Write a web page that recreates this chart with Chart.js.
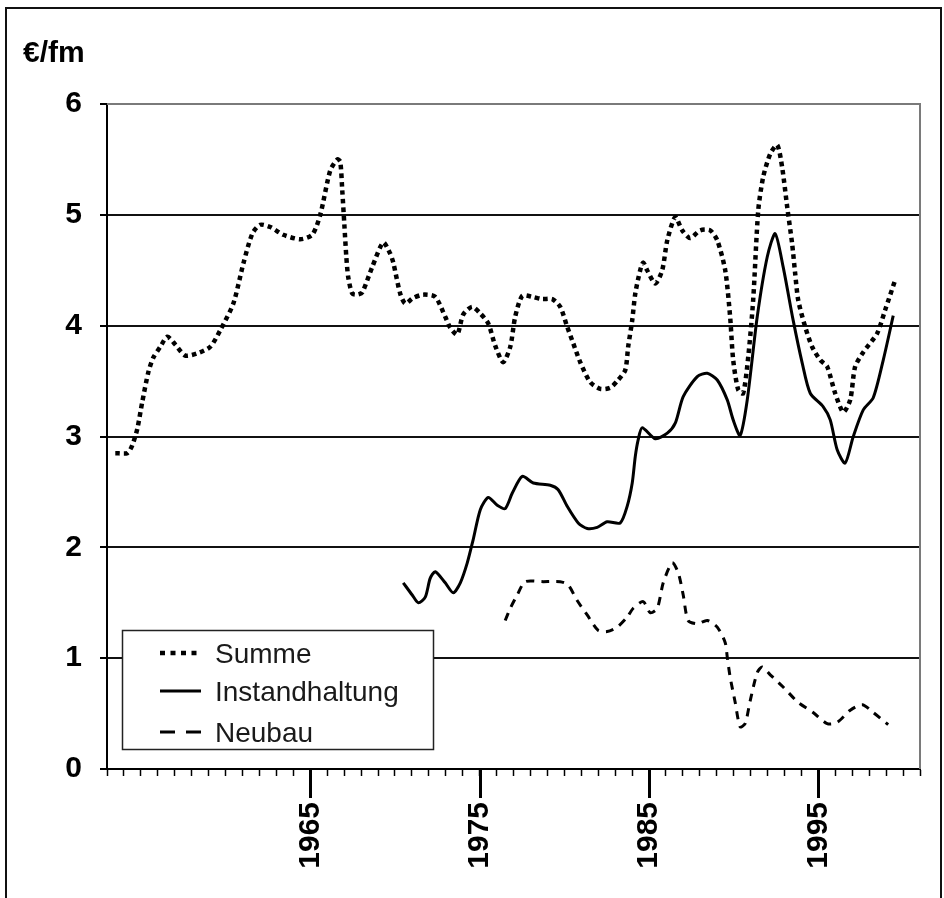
<!DOCTYPE html>
<html>
<head>
<meta charset="utf-8">
<script src="https://cdn.jsdelivr.net/npm/chart.js@4/dist/chart.umd.min.js"></script>
<style>
    body { margin: 0; background: #fff; }
    #wrap { position: relative; width: 944px; height: 898px; overflow: hidden; }
    #frame { position: absolute; left: 5px; top: 7px; right: 2px; bottom: -10px; border: 2px solid #111; }
    canvas { position: absolute; left: 0; top: 0; }
</style>
</head>
<body>
<div id="wrap">
    <div id="frame"></div>
    <canvas id="costChart" width="944" height="898"></canvas>
</div>
<script>
// Summe (dotted)
const sumYears = [1953.49, 1954.20, 1954.49, 1954.79, 1955.08, 1955.44, 1955.73, 1956.15, 1956.56, 1957.03,
    1957.62, 1958.33, 1959.10, 1959.69, 1960.46, 1961.05, 1961.58, 1962.05, 1962.64, 1963.41,
    1964.41, 1965.12, 1965.59, 1966.18, 1966.60, 1966.77, 1966.89, 1967.01, 1967.13, 1967.24,
    1967.48, 1967.78, 1968.07, 1968.66, 1969.31, 1969.72, 1969.90, 1970.31, 1970.61, 1971.08,
    1971.67, 1972.38, 1972.97, 1973.27, 1973.68, 1974.03, 1974.56, 1975.04, 1975.51, 1975.92,
    1976.39, 1976.81, 1977.10, 1977.52, 1978.11, 1978.70, 1979.29, 1979.76, 1980.17, 1980.53,
    1980.94, 1981.53, 1982.12, 1982.71, 1983.18, 1983.60, 1983.77, 1984.01, 1984.19, 1984.48,
    1984.66, 1984.89, 1985.37, 1985.78, 1986.08, 1986.55, 1986.96, 1987.43, 1988.02, 1988.61,
    1989.03, 1989.50, 1989.79, 1989.97, 1990.27, 1990.56, 1990.86, 1991.15, 1991.45, 1991.74,
    1992.16, 1992.57, 1992.86, 1993.16, 1993.45, 1993.63, 1993.81, 1994.22, 1994.63, 1995.11,
    1995.52, 1995.99, 1996.47, 1996.88, 1997.17, 1997.65, 1998.47, 1998.94, 1999.53];
const sumValues = [2.85, 2.85, 2.92, 3.07, 3.31, 3.58, 3.71, 3.81, 3.90, 3.83,
    3.73, 3.75, 3.81, 3.96, 4.20, 4.56, 4.83, 4.91, 4.89, 4.82,
    4.78, 4.82, 5.00, 5.40, 5.50, 5.48, 5.22, 4.92, 4.62, 4.44,
    4.29, 4.28, 4.30, 4.53, 4.75, 4.65, 4.57, 4.29, 4.20, 4.25,
    4.28, 4.26, 4.08, 3.98, 3.92, 4.10, 4.17, 4.11, 4.02, 3.82,
    3.67, 3.81, 4.08, 4.27, 4.26, 4.24, 4.24, 4.17, 3.99, 3.84,
    3.67, 3.49, 3.43, 3.44, 3.51, 3.60, 3.81, 4.05, 4.29, 4.50,
    4.57, 4.50, 4.38, 4.50, 4.77, 4.98, 4.86, 4.79, 4.86, 4.86,
    4.77, 4.50, 4.08, 3.69, 3.42, 3.39, 3.72, 4.23, 5.04, 5.34,
    5.55, 5.63, 5.43, 5.07, 4.74, 4.47, 4.23, 3.99, 3.81, 3.69,
    3.63, 3.39, 3.22, 3.33, 3.63, 3.76, 3.93, 4.14, 4.41];

// Instandhaltung (solid)
const repYears = [1970.49, 1971.02, 1971.38, 1971.79, 1972.08, 1972.38, 1972.97, 1973.44, 1973.86, 1974.27,
    1974.62, 1975.04, 1975.51, 1976.04, 1976.51, 1976.93, 1977.52, 1978.17, 1979.17, 1979.64,
    1980.17, 1980.82, 1981.35, 1981.94, 1982.53, 1983.30, 1983.71, 1984.01, 1984.19, 1984.36,
    1984.60, 1985.37, 1986.08, 1986.55, 1987.02, 1987.85, 1988.44, 1989.03, 1989.62, 1989.97,
    1990.38, 1990.80, 1991.39, 1991.98, 1992.45, 1992.92, 1993.51, 1994.05, 1994.52, 1995.28,
    1995.70, 1996.11, 1996.58, 1997.06, 1997.65, 1998.24, 1998.83, 1999.42];
const repValues = [1.68, 1.57, 1.50, 1.55, 1.72, 1.78, 1.68, 1.59, 1.68, 1.86,
    2.07, 2.34, 2.45, 2.38, 2.35, 2.49, 2.64, 2.58, 2.56, 2.52,
    2.37, 2.22, 2.17, 2.18, 2.23, 2.22, 2.37, 2.58, 2.82, 2.97,
    3.08, 2.98, 3.03, 3.12, 3.36, 3.54, 3.57, 3.51, 3.33, 3.15,
    3.01, 3.33, 4.08, 4.62, 4.83, 4.53, 4.05, 3.66, 3.39, 3.27,
    3.15, 2.88, 2.76, 3.00, 3.24, 3.35, 3.69, 4.09];

// Neubau (dashed)
const newYears = [1976.51, 1976.81, 1977.22, 1977.69, 1978.76, 1979.76, 1980.23, 1980.76, 1981.35, 1982.00,
    1982.53, 1983.12, 1983.71, 1984.07, 1984.66, 1985.07, 1985.49, 1985.84, 1986.37, 1986.73,
    1987.02, 1987.31, 1987.85, 1988.44, 1989.03, 1989.50, 1989.62, 1989.79, 1990.09, 1990.38,
    1990.68, 1990.98, 1991.39, 1991.68, 1992.16, 1992.92, 1993.81, 1994.69, 1995.52, 1996.11,
    1996.88, 1997.59, 1998.24, 1999.12];
const newValues = [1.34, 1.45, 1.57, 1.69, 1.69, 1.69, 1.66, 1.52, 1.39, 1.25,
    1.24, 1.28, 1.37, 1.45, 1.51, 1.41, 1.45, 1.68, 1.86, 1.77,
    1.57, 1.34, 1.31, 1.34, 1.28, 1.14, 1.01, 0.83, 0.60, 0.38,
    0.41, 0.62, 0.87, 0.92, 0.85, 0.74, 0.60, 0.51, 0.41, 0.42,
    0.53, 0.58, 0.51, 0.40];

// axis tick labels
const xLabelYears = [1965, 1975, 1985, 1995];
const yTicks = [0, 1, 2, 3, 4, 5, 6];
const unitLabel = '€/fm';

const FONT = '"Liberation Sans", Arial, sans-serif';

function toPoints(xs, ys) {
    return xs.map((x, i) => ({ x: x, y: ys[i] }));
}

// long tick marks at labelled years, outline of plot, unit label and legend box
const decorPlugin = {
    id: 'decor',
    beforeDatasetsDraw(chart) {
        const ctx = chart.ctx;
        const a = chart.chartArea;
        ctx.save();
        ctx.strokeStyle = '#7a7a7a';
        ctx.lineWidth = 2;
        ctx.beginPath();
        ctx.moveTo(a.left, a.top);
        ctx.lineTo(a.right, a.top);
        ctx.lineTo(a.right, a.bottom);
        ctx.stroke();
        ctx.restore();
    },
    afterDraw(chart) {
        const ctx = chart.ctx;
        const a = chart.chartArea;
        const xs = chart.scales.x;
        ctx.save();

        // major ticks
        ctx.strokeStyle = '#000';
        ctx.lineWidth = 3;
        xLabelYears.forEach(yr => {
            const px = Math.round(xs.getPixelForValue(yr)) + 0.5;
            ctx.beginPath();
            ctx.moveTo(px, a.bottom);
            ctx.lineTo(px, a.bottom + 29);
            ctx.stroke();
        });

        // unit label
        ctx.fillStyle = '#000';
        ctx.font = 'bold 30px ' + FONT;
        ctx.textAlign = 'left';
        ctx.textBaseline = 'alphabetic';
        ctx.fillText(unitLabel, 23, 62);

        // legend
        const box = { x: 122.5, y: 630.5, w: 311, h: 119 };
        ctx.fillStyle = '#fff';
        ctx.fillRect(box.x, box.y, box.w, box.h);
        ctx.strokeStyle = '#222';
        ctx.lineWidth = 1.5;
        ctx.strokeRect(box.x, box.y, box.w, box.h);

        const rows = [653, 691, 732];
        ctx.font = '28px ' + FONT;
        ctx.textBaseline = 'middle';
        chart.data.datasets.forEach((ds, i) => {
            const ly = rows[i];
            ctx.strokeStyle = '#000';
            ctx.lineWidth = ds.borderWidth;
            ctx.setLineDash(ds.legendDash);
            ctx.lineCap = 'butt';
            ctx.beginPath();
            ctx.moveTo(160, ly);
            ctx.lineTo(201, ly);
            ctx.stroke();
            ctx.setLineDash([]);
            ctx.fillStyle = '#1a1a1a';
            ctx.fillText(ds.label, 215, ly + 2);
        });
        ctx.restore();
    }
};

function drawChart() {
    const ctx = document.getElementById('costChart').getContext('2d');
    new Chart(ctx, {
        type: 'line',
        data: {
            datasets: [
                {
                    label: 'Summe',
                    data: toPoints(sumYears, sumValues),
                    borderColor: '#000',
                    borderWidth: 4.5,
                    borderDash: [4.5, 4],
                    legendDash: [5, 5.5],
                    borderCapStyle: 'butt',
                    pointRadius: 0,
                    tension: 0.25,
                    fill: false
                },
                {
                    label: 'Instandhaltung',
                    data: toPoints(repYears, repValues),
                    borderColor: '#000',
                    borderWidth: 3,
                    borderDash: [],
                    legendDash: [],
                    pointRadius: 0,
                    tension: 0.25,
                    fill: false
                },
                {
                    label: 'Neubau',
                    data: toPoints(newYears, newValues),
                    borderColor: '#000',
                    borderWidth: 3,
                    borderDash: [8, 7],
                    legendDash: [15, 11],
                    borderCapStyle: 'butt',
                    pointRadius: 0,
                    tension: 0.25,
                    fill: false
                }
            ]
        },
        options: {
            responsive: false,
            animation: false,
            layout: { padding: { top: 104, right: 24, left: 0, bottom: 0 } },
            plugins: {
                legend: { display: false },
                tooltip: { enabled: false }
            },
            scales: {
                x: {
                    type: 'linear',
                    min: 1953,
                    max: 2001,
                    grid: {
                        drawOnChartArea: false,
                        drawTicks: true,
                        tickLength: 7,
                        color: '#000',
                        tickWidth: 1.5
                    },
                    border: { display: true, color: '#000', width: 2 },
                    ticks: {
                        stepSize: 1,
                        autoSkip: false,
                        minRotation: 90,
                        maxRotation: 90,
                        padding: 26,
                        color: '#000',
                        font: { family: FONT, size: 30, weight: 'bold' },
                        callback: (v) => xLabelYears.includes(v) ? String(v) : ''
                    },
                    afterFit: (scale) => {
                        scale.height = 129;
                        scale.paddingLeft = 0;
                        scale.paddingRight = 0;
                    }
                },
                y: {
                    min: yTicks[0],
                    max: yTicks[yTicks.length - 1],
                    grid: {
                        color: (c) => c.tick && c.tick.value === 6 ? '#7a7a7a' : '#111',
                        lineWidth: 2,
                        tickColor: '#000',
                        tickLength: 7,
                        tickWidth: 2
                    },
                    border: { display: true, color: '#000', width: 2 },
                    ticks: {
                        stepSize: 1,
                        padding: 18,
                        color: '#000',
                        font: { family: FONT, size: 30, weight: 'bold' }
                    },
                    afterFit: (scale) => {
                        scale.width = 107;
                        scale.paddingTop = 0;
                        scale.paddingBottom = 0;
                    }
                }
            }
        },
        plugins: [decorPlugin]
    });
}

window.onload = function() {
    drawChart();
};
</script>
</body>
</html>
